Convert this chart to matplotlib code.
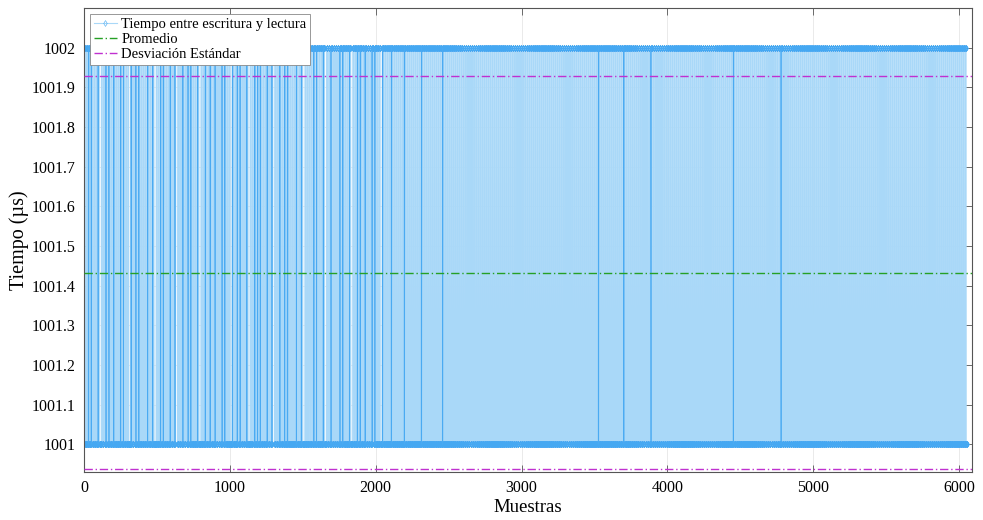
import numpy as np
import matplotlib
matplotlib.use("Agg")
import matplotlib.pyplot as plt

# each block: (reps, samples at 1002, samples at 1001), the pair repeated reps times
tramo_a = [(2, 6, 8), (1, 2, 3), (1, 6, 8), (1, 3, 2), (3, 6, 8),
           (1, 2, 2), (1, 6, 14), (2, 7, 8), (1, 2, 3), (1, 6, 8)]
tramo_b = [(1, 3, 3), (2, 6, 8), (1, 2, 3), (3, 6, 8), (1, 3, 2),
           (1, 7, 8), (1, 2, 2), (2, 6, 8), (1, 6, 14), (1, 3, 2)]
tramo_c = [(2, 6, 8), (1, 2, 3), (1, 6, 8), (1, 3, 3), (4, 6, 8),
           (1, 2, 2), (2, 7, 8), (1, 2, 3), (1, 6, 15), (2, 6, 8)]
tramo_d = [(1, 3, 2), (1, 6, 8), (1, 2, 3), (3, 6, 8), (1, 3, 2),
           (2, 6, 8), (1, 2, 2), (1, 14, 8), (2, 6, 8), (1, 2, 3)]
tramo_e = [(2, 7, 8), (1, 3, 3), (1, 6, 8), (1, 2, 2), (3, 6, 8),
           (1, 3, 2), (1, 6, 14), (2, 6, 8), (1, 2, 3), (2, 6, 8)]
tramo_f = [(4, 6, 8), (1, 3, 2), (6, 6, 8), (1, 2, 3), (8, 6, 8),
           (1, 3, 2), (10, 6, 8), (1, 2, 3)]
tramo_g = [(76, 6, 8), (1, 2, 3), (12, 6, 8), (1, 3, 2), (13, 6, 8),
           (1, 2, 3), (40, 6, 8), (1, 3, 2), (23, 6, 8), (1, 2, 3), (91, 6, 8)]

secuencia = [tramo_a, tramo_b, tramo_c, tramo_d, tramo_e, tramo_b,
             tramo_a, tramo_d, tramo_c, tramo_e, tramo_a, tramo_b,
             tramo_f, tramo_g]

promedio = 1001.433
desviacion = 0.496

xticks = [0, 1000, 2000, 3000, 4000, 5000, 6000]
yticks = [1001, 1001.1, 1001.2, 1001.3, 1001.4, 1001.5, 1001.6, 1001.7, 1001.8, 1001.9, 1002]
ytick_labels = ["1001", "1001.1", "1001.2", "1001.3", "1001.4", "1001.5",
                "1001.6", "1001.7", "1001.8", "1001.9", "1002"]

tiempo = []
for tramo in secuencia:
    for reps, hi, lo in tramo:
        for _ in range(reps):
            tiempo += [1002] * hi + [1001] * lo
tiempo = np.array(tiempo, dtype=float)
muestras = np.arange(1, len(tiempo) + 1)

# short runs (3 samples or less) show up as denser, darker strokes
cambios = np.flatnonzero(np.diff(tiempo)) + 1
bordes = np.concatenate([[0], cambios, [len(tiempo)]])
corto = np.zeros(len(tiempo), dtype=bool)
for a, b in zip(bordes[:-1], bordes[1:]):
    if b - a <= 3:
        corto[max(a - 1, 0):min(b + 1, len(tiempo))] = True
tiempo_corto = np.where(corto, tiempo, np.nan)

plt.rcParams["font.family"] = ["Liberation Serif", "DejaVu Serif"]

fig = plt.figure(figsize=(9.83, 5.2), dpi=100)
ax = fig.add_axes([0.0855, 0.0923, 0.9035, 0.8923])

ax.plot(muestras, tiempo, color="#A9D8F8", lw=0.8, marker="d", ms=3,
        mfc="none", mec="#45A8F2", mew=0.4, label="Tiempo entre escritura y lectura")
ax.plot(muestras, tiempo_corto, color="#4AAAF2", lw=0.35)
ax.axhline(promedio, color="#25A025", lw=1.0, ls=(0, (6, 2, 1, 2)),
           zorder=3, label="Promedio")
ax.axhline(promedio + desviacion, color="#C030D0", lw=1.0, ls=(0, (6, 2, 1, 2)),
           zorder=3, label="Desviación Estándar")
ax.axhline(promedio - desviacion, color="#C030D0", lw=1.0, ls=(0, (6, 2, 1, 2)),
           zorder=3)

ax.set_xlim(0, 6090)
ax.set_ylim(1000.93, 1002.1)
ax.set_xticks(xticks)
ax.set_yticks(yticks)
ax.set_yticklabels(ytick_labels)
ax.tick_params(direction="in", top=True, right=True, length=5, width=0.6,
               labelsize=11.5, color="#555555", pad=6)
ax.grid(True, color="#e6e6e6", lw=0.6)
ax.set_axisbelow(True)
for s in ax.spines.values():
    s.set_color("#555555")
    s.set_linewidth(0.8)

ax.set_xlabel("Muestras", fontsize=13.5, labelpad=2)
ax.set_ylabel("Tiempo (µs)", fontsize=14.5, labelpad=2)

leg = ax.legend(loc="upper left", fontsize=10.5, numpoints=1, fancybox=False,
                framealpha=1, edgecolor="#888888", borderaxespad=0.4,
                borderpad=0.25, labelspacing=0.15, handlelength=1.6,
                handletextpad=0.3)
leg.get_frame().set_linewidth(0.6)

fig.savefig("out.png", dpi=100)
